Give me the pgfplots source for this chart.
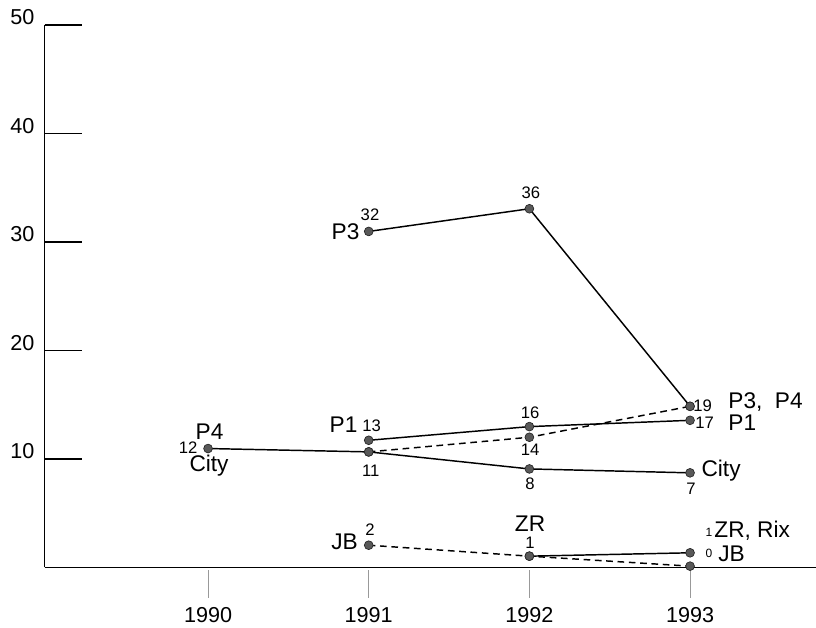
\documentclass[border=0pt]{standalone}
\usepackage{pgfplots}
\pgfplotsset{compat=1.18}
\usepackage{fontspec}
\setmainfont{Liberation Sans}
\begin{document}
\begin{tikzpicture}[
  big/.style={font=\fontsize{17}{20}\selectfont, inner sep=0pt},
  sm/.style={font=\fontsize{12.5}{14}\selectfont, inner sep=0pt},
  tn/.style={font=\fontsize{9}{11}\selectfont, inner sep=0pt},
]
% x positions: 0 = 1990, 1 = 1991, 2 = 1992, 3 = 1993
\begin{axis}[
  scale only axis, width=578.64pt, height=406.88pt,
  xmin=-1.018, xmax=3.784, ymin=0, ymax=50,
  axis x line=bottom, axis y line=left,
  axis line style={-, line width=1.1pt, black},
  clip=false,
  xtick={0,1,2,3},
  xticklabels={1990,1991,1992,1993},
  ytick={10,20,30,40,50},
  tick align=inside,
  major tick length=27.75pt,
  xtick style={draw=none},
  ytick style={line width=1.1pt, black},
  yticklabel style={font=\fontsize{16.2}{18}\selectfont, xshift=-4pt, yshift=5.6pt},
  xticklabel style={font=\fontsize{16.2}{18}\selectfont, yshift=-26.5pt},
  /pgf/number format/assume math mode=true,
  ser/.style={line width=1.1pt, black,
     mark=*, mark size=3.3pt,
     mark options={solid, fill=black!65, draw=black!85, line width=0.5pt}},
  dser/.style={ser, dash pattern=on 5pt off 3.5pt},
]
% P3
\addplot[ser] coordinates {(1,30.97) (2,33.06) (3,14.85)};
% P1
\addplot[ser] coordinates {(1,11.72) (2,12.98) (3,13.56)};
% P4 (dashed)
\addplot[dser] coordinates {(1,10.65) (2,12.0) (3,14.85)};
% City
\addplot[ser] coordinates {(0,10.96) (1,10.65) (2,9.08) (3,8.72)};
% JB (dashed)
\addplot[dser] coordinates {(1,2.05) (2,1.04) (3,0.12)};
% ZR
\addplot[ser] coordinates {(2,1.04) (3,1.35)};

\pgfplotsinvokeforeach{0,1,2,3}{
  \draw[black!40, line width=0.6pt] (axis cs:#1,0) ++(0pt,-2.25pt) -- ++(0pt,-21pt);
}

% labels
\node[big] at (axis cs:0.856,30.97) {P3};
\node[sm]  at (axis cs:1.008,32.49) {32};
\node[sm]  at (axis cs:2.010,34.52) {36};
\node[sm,anchor=west]  at (axis cs:3.019,14.88) {19};
\node[big,anchor=west] at (axis cs:3.237,15.21) {P3,\ \ P4};
\node[sm,anchor=west]  at (axis cs:3.031,13.36) {17};
\node[big,anchor=west] at (axis cs:3.237,13.36) {P1};
\node[big,anchor=west] at (axis cs:3.070,8.89) {City};
\node[sm]  at (axis cs:3.006,7.24) {7};
\node[sm]  at (axis cs:2.004,14.24) {16};
\node[sm]  at (axis cs:2.004,10.88) {14};
\node[sm]  at (axis cs:2.004,7.74) {8};
\node[sm]  at (axis cs:1.013,8.89) {11};
\node[big] at (axis cs:0.843,13.13) {P1};
\node[sm]  at (axis cs:1.018,13.09) {13};
\node[big] at (axis cs:0.009,12.53) {P4};
\node[sm]  at (axis cs:-0.124,11.01) {12};
\node[big] at (axis cs:0.006,9.35) {City};
\node[big] at (axis cs:0.850,2.40) {JB};
\node[sm]  at (axis cs:1.008,3.46) {2};
\node[big] at (axis cs:2.004,4.0) {ZR};
\node[sm]  at (axis cs:2.004,2.3) {1};
\node[tn]  at (axis cs:3.118,3.2) {1};
\node[big,anchor=west] at (axis cs:3.150,3.4) {ZR, Rix};
\node[tn]  at (axis cs:3.118,1.3) {0};
\node[big,anchor=west] at (axis cs:3.174,1.3) {JB};

\coordinate (bbll) at (axis cs:-1.295,-5.576);
\coordinate (bbur) at (axis cs:3.784,52.30);
\end{axis}
\pgfresetboundingbox
\path (bbll) rectangle (bbur);
\end{tikzpicture}
\end{document}
